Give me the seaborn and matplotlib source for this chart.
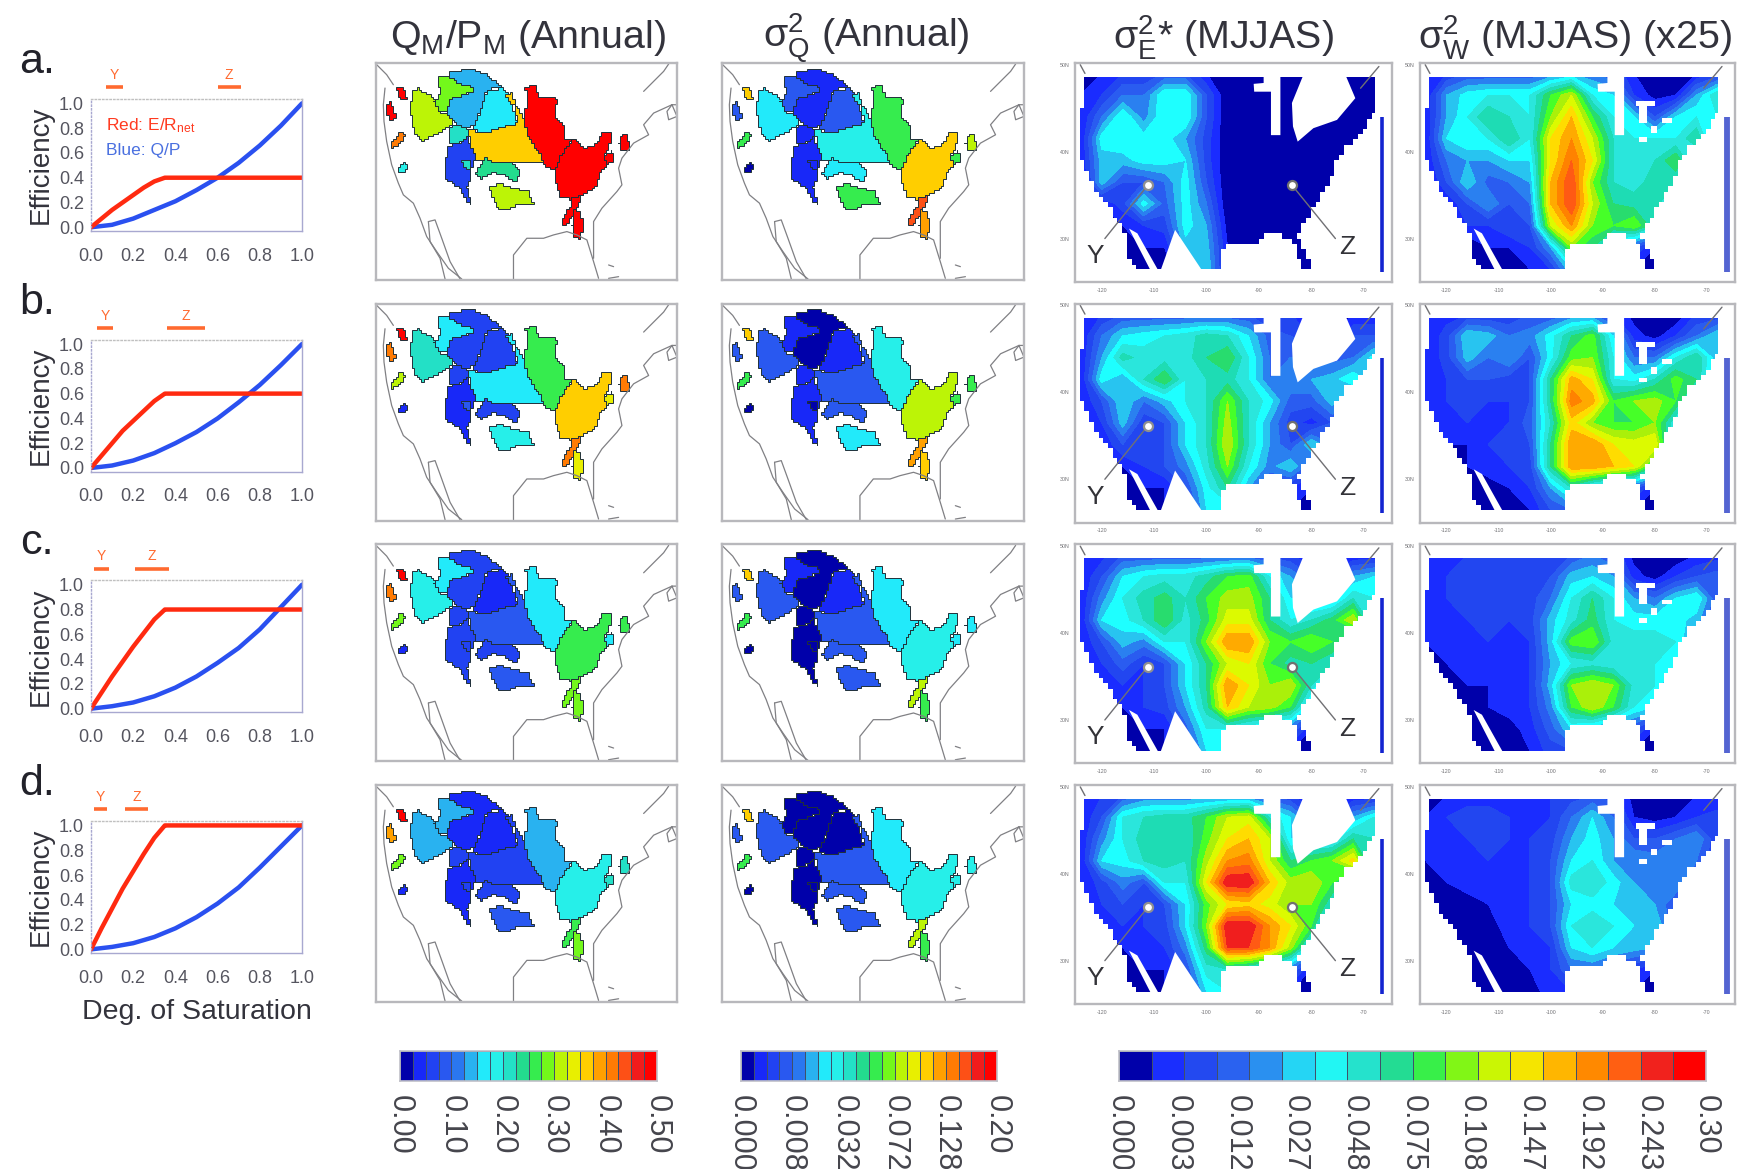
import numpy as np
import pandas as pd
import matplotlib
matplotlib.use("Agg")
import matplotlib.pyplot as plt
from matplotlib.colors import ListedColormap, BoundaryNorm
from matplotlib.patches import Polygon
import seaborn as sns

sns.set_style("white")
plt.rcParams["font.family"] = ["Liberation Sans", "DejaVu Sans"]
plt.rcParams["mathtext.fontset"] = "custom"
plt.rcParams["mathtext.rm"] = "Liberation Sans"
plt.rcParams["mathtext.it"] = "Liberation Sans"
plt.rcParams["mathtext.default"] = "regular"

W, H = 1739, 1169

#Parameters
PANELS = ["a.", "b.", "c.", "d."]
TITLES = ["Q$_{M}$/P$_{M}$ (Annual)", "$\\sigma^{2}_{Q}$ (Annual)",
          "$\\sigma^{2}_{E}$* (MJJAS)", "$\\sigma^{2}_{W}$ (MJJAS) (x25)"]
ANCHORS = ["#0000aa", "#1a2cff", "#2246f0", "#2a5cf0", "#2a80f0", "#28c4f0",
           "#1effff", "#2ae6dc", "#1edcb4", "#28dc6e", "#46ff28", "#aaf00a",
           "#dcfa00", "#ffdc00", "#ffaa00", "#ff8200", "#ff5a14", "#f01e1e", "#ff0000"]

#Efficiency curves
sat_blue = [0, .1, .2, .3, .4, .5, .6, .7, .8, .9, 1]
blue_curves = [[0, .02, .07, .14, .21, .30, .40, .52, .66, .82, 1],
               [0, .02, .06, .12, .20, .29, .40, .53, .67, .83, 1],
               [0, .02, .05, .10, .17, .26, .37, .49, .64, .82, 1],
               [0, .02, .05, .10, .17, .26, .37, .50, .66, .83, 1]]
sat_red = [0, .05, .1, .15, .2, .25, .3, .35, .36, 1]
red_curves = [[0, .07, .14, .20, .26, .32, .37, .40, .40, .40],
              [0, .10, .20, .30, .38, .46, .54, .60, .60, .60],
              [0, .13, .26, .38, .50, .61, .72, .80, .80, .80],
              [0, .17, .33, .49, .63, .77, .90, 1.0, 1.0, 1.0]]
y_range = [(.07, .15), (.03, .105), (.015, .085), (.015, .075)]
z_range = [(.60, .71), (.36, .54), (.21, .37), (.16, .27)]

#Basin outlines, in map grid units
b_a = [(80,100),(92,95),(103,110),(110,130),(95,135),(85,120)]
b_b = [(48,150),(60,140),(72,165),(76,190),(62,198),(50,180)]
b_c = [(60,270),(75,250),(90,230),(103,240),(100,255),(80,272),(65,280)]
b_d = [(85,335),(105,322),(115,340),(100,350),(88,348)]
b_e = [(125,105),(145,100),(165,115),(190,125),(195,145),(205,170),(225,178),(245,180),(248,208),(220,225),(190,242),(160,258),(135,240),(125,200),(120,160)]
b_f = [(200,60),(240,65),(265,85),(285,90),(305,95),(308,108),(270,125),(240,130),(230,172),(205,165),(192,140),(212,110),(200,85)]
b_g = [(235,50),(300,42),(350,60),(390,95),(350,105),(335,155),(315,205),(295,220),(265,212),(240,185),(230,172),(240,130),(270,125),(308,108),(305,95),(285,90),(265,85),(240,65)]
b_h = [(350,105),(395,100),(420,130),(440,205),(400,215),(350,232),(305,225),(315,205),(335,155)]
b_j = [(295,225),(350,232),(400,215),(440,205),(435,150),(455,180),(470,240),(510,295),(520,322),(440,322),(380,320),(320,315),(305,280)]
b_i = [(408,120),(425,112),(435,150),(420,145)]
b_k = [(242,208),(265,212),(295,225),(290,245),(270,262),(240,268),(240,235)]
b_l = [(235,272),(270,262),(290,245),(305,280),(318,310),(305,325),(302,375),(288,395),(303,445),(288,440),(272,400),(250,385),(225,370),(225,320)]
b_m = [(275,315),(300,312),(300,340),(285,340)]
b_n = [(320,340),(345,308),(370,325),(425,325),(448,345),(442,378),(420,372),(400,358),(370,352),(335,370),(318,355)]
b_o = [(358,395),(390,385),(430,400),(470,405),(488,450),(440,448),(420,460),(385,462),(370,430)]
b_p = [(465,95),(495,92),(505,125),(558,130),(552,185),(578,215),(578,250),(607,250),(572,300),(552,345),(520,330),(510,295),(470,240),(460,180),(470,140)]
b_q = [(607,250),(640,282),(680,265),(695,232),(722,232),(715,285),(700,300),(708,335),(690,350),(675,395),(635,420),(600,432),(570,425),(555,380),(552,345),(572,300)]
b_r1 = [(605,430),(635,418),(618,465),(600,490),(585,512),(572,505),(585,470),(600,455)]
b_r2 = [(612,465),(625,468),(640,510),(628,550),(612,545),(605,510)]
b_s = [(755,240),(770,240),(778,290),(750,290),(745,265)]
b_t = [(700,300),(722,288),(730,315),(708,335)]
basin_shapes = [b_a, b_b, b_c, b_d, b_e, b_f, b_g, b_h, b_j, b_i, b_k, b_l, b_m, b_n, b_o, b_p, b_q, b_r1, b_r2, b_s, b_t]

#Basin values, same order as basin_shapes
qp_a = [.50, .50, .42, .18, .31, .29, .13, .17, .36, .36, .20, .07, .20, .24, .31, .50, .50, .50, .50, .50, .50]
qp_b = [.50, .42, .31, .03, .22, .17, .06, .06, .16, .16, .07, .04, .08, .07, .19, .27, .37, .41, .35, .40, .33]
qp_c = [.50, .42, .28, .03, .19, .16, .05, .04, .08, .08, .05, .05, .06, .07, .08, .17, .25, .28, .28, .26, .17]
qp_d = [.48, .38, .30, .03, .15, .14, .04, .03, .07, .07, .05, .04, .05, .07, .09, .13, .18, .25, .28, .22, .20]
sq_a = [.112, .008, .060, .0005, .018, .008, .002, .008, .032, .032, .002, .002, .002, .024, .060, .050, .098, .162, .128, .072, .060]
sq_b = [.112, .0045, .050, .0002, .008, .002, .0002, .002, .008, .008, .002, .002, .0005, .008, .024, .032, .072, .128, .098, .050, .050]
sq_c = [.112, .0045, .050, .0002, .008, .002, .0002, .002, .0045, .0045, .0005, .0002, .0002, .0045, .008, .018, .032, .072, .050, .024, .024]
sq_d = [.098, .0045, .050, .0002, .008, .0005, .0002, .0005, .0045, .0045, .0002, .0002, .0002, .0045, .008, .018, .032, .072, .060, .032, .032]

#Coast lines, in map grid units
coast_west = [(45,100),(40,150),(42,200),(50,260),(65,330),(85,385),(100,420),(130,445),(150,490),(170,545),(200,590),(235,640),(275,672)]
coast_nw = [(20,30),(50,60),(70,90)]
coast_baja = [(175,500),(195,495),(215,550),(240,620),(270,672)]
coast_baja2 = [(175,500),(180,560),(210,610),(225,672)]
coast_gulf = [(430,672),(430,600),(470,550),(520,550),(550,540),(590,530),(620,540),(650,555),(670,620),(685,670)]
coast_east = [(670,610),(670,500),(695,460),(740,410),(755,390),(745,340),(755,310),(790,265),(835,240),(820,210),(850,175),(905,150),(920,150)]
coast_can = [(820,110),(880,50),(895,28)]
coast_lake = [(905,150),(920,185),(895,195),(890,170),(905,150)]
coast_isl = [(715,630),(730,635)]
coast_isl2 = [(715,670),(745,665)]
coast_lines = [coast_west, coast_nw, coast_baja, coast_baja2, coast_gulf, coast_east, coast_can, coast_lake, coast_isl, coast_isl2]

#Grid of the gridded fields
lons = [-124, -120, -116, -112, -108, -104, -100, -96, -92, -88, -84, -80, -76, -72, -68]
lats = [49, 46.5, 44, 41.5, 39, 36.5, 34, 31.5, 29, 26.5]

#Fields in colour bar steps, 0 to 18
e_a = [[1,1,2,2,3,3,1,0,0,0,0,0,0,0,0],
       [1,2,4,4,7,7,3,0,0,0,0,0,0,1,1],
       [1,4,7,4.5,7,7,3,0,0,0,0,0,0,1,1],
       [1,6.5,7,6.5,6.5,5,2.5,0,0,0,0,0,0,0,0],
       [1,5.5,5.5,6.5,6.5,6,2.5,0,0,0,0,0,0,0,0],
       [.5,5.5,3,3,4,6.5,3,0,0,0,0,0,0,0,0],
       [0,1,2.5,6.5,3.5,6.5,4,0,0,0,0,0,0,0,0],
       [0,0,1,2,2.5,6.5,5,.5,0,0,0,0,0,0,0],
       [0,0,0,1,1,5.5,5.5,1,0,0,0,0,0,0,0],
       [0,0,0,0,0,3,6,1,0,0,0,0,0,0,0]]
e_b = [[1,2,3,3,3,3,3,3,3,2,2,2,1,1,1],
       [1,4,6,6.5,7,7.5,8.5,8,6,3.5,3,2,1,3,3],
       [1,5,8.5,7.5,7.5,7.5,9,10,7,4,4,4,3.5,4,6.5],
       [1,6.5,5,8,10,7,8,8.5,7,4,5,5,5.5,7,5],
       [1,3,6,4,5.5,7,8,11,8,6.5,3.5,3.5,5.5,3,3],
       [.5,2,5.5,2.2,3,6,8,11.5,8,5,2.5,1.5,3,3,2],
       [0,1,3,2.5,3,6,8,12,8,5,3,6,4,2,2],
       [0,0,1,2,3,4.5,7.5,11,7,4.5,6,3,3,2,2],
       [0,0,0,1,1,3,6.5,9,5,2.5,2,1,1,1,1],
       [0,0,0,0,1,2,6,6,3,2,1,0,0,0,0]]
e_c = [[1,1.5,3,3,3,3,3,3,3,2.5,2,1,1,1,1],
       [1,3,6,7,7.5,7.5,8.5,10,10.5,7,5,3,2,5,6],
       [1,4.5,7,8.5,9.5,8,10,11.5,11.5,9,6,5,5,8,7],
       [1,6,6.5,8,10,7.5,9.5,12.5,12.5,9,7,8,9.5,12,6],
       [1,3,5.5,4.5,7,7,11,15,15,11,10,11,10,7,4],
       [.5,2,3.5,2,3,6,9,12,13,10,8.5,9,8,3,2],
       [0,1,2,2,3,6,9,15,13,11,12,8,3,2,2],
       [0,0,1,2,2.5,5,8.5,14,12,11.5,10,5,2,2,2],
       [0,0,0,1,1,3.5,7,7,6,5,4,1,1,1,1],
       [0,0,0,0,1,2,6,6.5,4,3,1,0,0,0,0]]
e_d = [[1,2,3,4,4,4,4,4,4,3,2,1,1,1,1],
       [1,3,7,8,8.5,8.5,10,12,12.5,8,6,3,2,5,7],
       [1,4.5,7,8.5,9,8,10.5,13,14,12,6,6,6,9,8],
       [1,6,6.5,8,8.5,8,11.5,15,15.5,12,9,10,11,13.5,6],
       [1,2.5,4.5,3,7,7,13,18,18,14,11.5,12,10,7,4],
       [.5,2,3,2,3,6,10.5,13,13.5,12.5,11,11,8,3,2],
       [0,1,2,2,2.5,6,11,18,18,15,13,10,3,2,2],
       [0,0,1,1.5,2,4.5,9.5,17,17,15,11.5,6,2,2,2],
       [0,0,0,1,1,3,7.5,8,7,6,4,1,1,1,1],
       [0,0,0,0,1,2,6,7,4,3,1,0,0,0,0]]
w_a = [[1,2,3,3,3,3,4,5,4,3,1,0,0,1,2],
       [1,5,6.5,7,7,7,10,12,7,6,2,.5,1,5,8],
       [1,5,7,9,8,7,11,14,10,7,6,3,6,7,7],
       [1,6,7,7,9,7,13,15,12,8,7,7,7,9,4],
       [1,4,5,5,6,6,13,16,13,8,8,8,10,6,3],
       [.5,3,6,3.5,4,5,14,17,11,8,7.5,8.5,8,3,2],
       [0,1,3,5,3,4,14,17,12,9,8.5,9,4,2,1],
       [0,0,2,2,3,3,12,15,11,10,11,8,2,1,1],
       [0,0,0,1,1,2,5,11,9,5,3,1,1,1,1],
       [0,0,0,0,0,1,2,6,2,1,1,0,0,0,0]]
w_b = [[1,1.5,2,2,2,3,3,4,4,2,.5,0,0,2,2],
       [1,2.5,6,5.5,4,4.5,6.5,9,10.5,6,1.5,.5,2,4,6],
       [1,2.5,5.5,4,5,3,6.5,10.5,11,7,4,4,7,9,5],
       [1,2,3,3,2.5,3,9,14.5,13,7,6.5,8,10.5,9,4],
       [1,2,2.5,2,2,3,9,15.5,14.5,10,11,11.5,10,6,3],
       [.5,1.5,2,2,2,3.5,8,13.5,11,10,10,11,7,3,2],
       [0,1,1,2,2.5,3,9,15,15,13,12.5,13,5,2,1],
       [0,0,1,1.5,2,2.5,9,15,15,14,13,9,2,1,1],
       [0,0,0,.5,1,2,5,8,5.5,4,3,1,1,1,1],
       [0,0,0,0,.5,1,3,4,2,1,1,0,0,0,0]]
w_c = [[1,1.5,2,2,2,2,2,3,4,3,.5,0,0,1,1.5],
       [1,2,3,3,2.5,2.5,3,5.5,6,5,1.5,.5,2,3,3.5],
       [1,2,2.5,2.5,2.5,2.5,4,7,9,7,5,4,6,7,3],
       [1.5,2,2,2.5,2,2.5,5.5,7.5,9.5,7,6.5,6.5,6.5,5.5,2.5],
       [1,1.5,2,2,2,2,5.5,10.5,11,7.5,7.5,7.5,7,4,2],
       [.5,1,1.5,1.5,1.5,2,5,7,7.5,7,7.5,7,6,2,1],
       [0,1,1,1,2,2,5.5,11,12,11,7.5,7,3,2,1],
       [0,0,.5,1,1.5,2,4.5,10,12,10,7,6,2,1,1],
       [0,0,0,.5,.5,1.5,3.5,6,5,4,3,1,1,1,1],
       [0,0,0,0,0,1,2.5,3,2,1,1,0,0,0,0]]
w_d = [[1,1,1.5,1.5,1.5,1.5,2,2.5,3,2.5,.5,0,0,1,1],
       [1,2,2.5,2.5,2,2,2,4,6,4,1,.5,1,2,2.5],
       [1,2,2,2.5,2,2,2.5,5,6.5,5,3,3,4,5,2],
       [1,1.5,2,2,1.5,2,3,6,7,5,5,4.5,5,4,2],
       [1,1,1.5,1.5,1.5,2,3,7.5,8,6.5,5,5,5,3,1.5],
       [.5,1,.5,1,1.5,2,3,6,6.5,6,6,5,3,2,1],
       [0,1,.5,.5,1.5,2,3,7,8,7,6,6,3,1.5,1],
       [0,0,0,.5,1,1.5,2,6,7,6,5.5,5,1.5,1,1],
       [0,0,0,0,.5,1,2,4,4,3,2,1,1,1,1],
       [0,0,0,0,0,.5,1.5,2,2,1,1,0,0,0,0]]

#Land outline and masked out areas, lon/lat
us_outline = [(-123.2,48.65),(-66.2,48.65),(-65.9,45),(-68.7,43.85),(-70.6,41.7),(-73.2,40.6),(-75.1,39),(-77,36),
              (-80.2,32.9),(-82.4,30.2),(-80.8,27.9),(-79.9,26.15),(-81.5,26.1),(-82.7,27.9),(-83.2,29.6),(-85.9,30.4),
              (-88.5,30.8),(-91,29.2),(-95.5,29.6),(-97.4,27.9),(-97.5,26.15),(-112.4,26.15),(-114.9,27.9),(-115.5,30.2),
              (-117.1,32.5),(-121.6,36.3),(-123.8,39.4),(-124.1,42.9)]
lake_common = [(-89.1,48.85),(-85.9,48.85),(-85.9,41.9),(-87.7,41.9),(-87.7,46.9),(-90.9,46.9),(-91,47.8),(-89.1,47.9)]
lake_e = [(-81.5,48.85),(-83.7,45.6),(-83.5,42.9),(-82.6,41.15),(-79.6,42.7),(-75.1,43.65),(-71.6,46.15),(-73.5,48.85)]
lake_w = [[(-83.7,45.8),(-79.9,45.8),(-79.9,45.2),(-83.7,45.2)],
          [(-83.1,45.2),(-81.5,45.2),(-81.5,43.3),(-83.1,43.3)],
          [(-78.6,43.85),(-76.7,43.85),(-76.7,43.3),(-78.6,43.3)],
          [(-80.8,42.9),(-79.6,42.9),(-79.6,42.1),(-80.8,42.1)],
          [(-83.1,41.7),(-81.5,41.7),(-81.5,41.15),(-83.1,41.15)]]
gulf_gap = [(-114.8,31.15),(-113.2,30.6),(-108.9,26),(-110.4,26)]
mex_gap = [(-108.9,26.1),(-106,31),(-100.6,26.1)]
y_point = (-111.2, 36.15)
z_point = (-83.7, 36.15)
y_end = (-119.4, 30)
z_end = (-75.4, 30)

#Colour bar labels
bar1_labels = ["0.00", "0.10", "0.20", "0.30", "0.40", "0.50"]
bar2_labels = ["0.000", "0.008", "0.032", "0.072", "0.128", "0.20"]
bar3_labels = ["0.000", "0.003", "0.012", "0.027", "0.048", "0.075", "0.108", "0.147", "0.192", "0.243", "0.30"]


def add_axes(fig, left, top, right, bottom):
    return fig.add_axes([left / W, 1 - bottom / H, (right - left) / W, (bottom - top) / H])


def frame(ax, color="#b8b8bc", lw=1.7):
    for s in ax.spines.values():
        s.set_visible(True)
        s.set_color(color)
        s.set_linewidth(lw)


# grid cells make the outlines blocky, like the model grid
def stair(points, dx, dy):
    pts = np.array(points + points[:1], dtype=float)
    out = []
    for p0, p1 in zip(pts[:-1], pts[1:]):
        for t in np.linspace(0, 1, 12, endpoint=False):
            x = np.round((p0[0] + t * (p1[0] - p0[0])) / dx) * dx
            y = np.round((p0[1] + t * (p1[1] - p0[1])) / dy) * dy
            if out and (x, y) != out[-1]:
                out.append((x, out[-1][1]))
            out.append((x, y))
    return out


def draw_basins(ax, values, norm, cmap):
    for shape, v in zip(basin_shapes, values):
        ax.add_patch(Polygon(stair(shape, 7, 7), closed=True, facecolor=cmap(norm(v)), edgecolor="#20303a", lw=0.7))
    for line in coast_lines:
        xy = np.array(line)
        ax.plot(xy[:, 0], xy[:, 1], color="#808084", lw=0.9)
    ax.set_xlim(18, 920)
    ax.set_ylim(675, 25)
    ax.set_xticks([])
    ax.set_yticks([])
    frame(ax)


def draw_field(ax, field, is_w):
    cs = ax.contourf(lons, lats, field, levels=field_levels, cmap=field_cmap, vmin=0, vmax=18)
    cs.set_clip_path(Polygon(stair(us_outline, 0.9, 0.6), closed=True, transform=ax.transData))
    ax.add_patch(Polygon(lake_common, closed=True, fc="white", ec="none"))
    ax.add_patch(Polygon(gulf_gap, closed=True, fc="white", ec="none"))
    if is_w:
        for rect in lake_w:
            ax.add_patch(Polygon(rect, closed=True, fc="white", ec="none"))
        ax.plot([-66.2, -66.2], [44, 26.15], color="#5464d2", lw=4.2, solid_capstyle="butt")
    else:
        ax.add_patch(Polygon(lake_e, closed=True, fc="white", ec="none"))
        ax.add_patch(Polygon(mex_gap, closed=True, fc="white", ec="none"))
        ax.plot([-66.5, -66.5], [44, 26.15], color="#1424d0", lw=2.6, solid_capstyle="butt")
        ax.plot([y_point[0], y_end[0]], [y_point[1], y_end[1]], color="#707074", lw=1)
        ax.plot([z_point[0], z_end[0]], [z_point[1], z_end[1]], color="#707074", lw=1)
        ax.plot(*y_point, "o", ms=6.5, mfc="white", mec="#909090", mew=1.6)
        ax.plot(*z_point, "o", ms=6.5, mfc="white", mec="#707070", mew=1.6)
        ax.text(-121.3, 28, "Y", fontsize=19, color="#333338", ha="center", va="center")
        ax.text(-73.2, 29, "Z", fontsize=19, color="#333338", ha="center", va="center")
    ax.plot([-124.1, -123.2], [50, 49], color="#707074", lw=1)
    ax.plot([-67.1, -70.6], [49.8, 47.3], color="#707074", lw=1)
    ax.set_xlim(-125.1, -64.6)
    ax.set_ylim(25, 50.2)
    ax.set_xticks([-120, -110, -100, -90, -80, -70])
    ax.set_xticklabels(["-120", "-110", "-100", "-90", "-80", "-70"])
    ax.set_yticks([30, 40, 50])
    ax.set_yticklabels(["30N", "40N", "50N"])
    ax.tick_params(axis="both", length=2.5, width=0.7, color="#909090", labelsize=3.8, labelcolor="#707074", pad=1.5)
    frame(ax)


def draw_bar(fig, left, right, labels, n_cells):
    ax = add_axes(fig, left, 1051, right, 1081)
    colors = sns.blend_palette(ANCHORS, n_colors=n_cells)
    sns.heatmap(np.arange(n_cells)[None, :], ax=ax, cmap=ListedColormap(colors), cbar=False,
                xticklabels=False, yticklabels=False, linewidths=0.5, linecolor="#40506a")
    ax.set_xticks(np.linspace(0, n_cells, len(labels)))
    ax.set_xticklabels(labels, rotation=270, fontsize=22, color="#45454c")
    ax.tick_params(axis="x", length=0, pad=10)
    for label in ax.get_xticklabels():
        label.set_clip_on(False)
    frame(ax, "#c0c0c8", 1.2)


# scales
cmap20 = ListedColormap(sns.blend_palette(ANCHORS, n_colors=20))
norm_qp = BoundaryNorm(np.linspace(0, .5, 21), 20)
norm_sq = BoundaryNorm(.2 * (np.arange(21) / 20) ** 2, 20)
field_cmap = ListedColormap(ANCHORS[:18])
field_levels = np.arange(19.0)
field_levels[0] = -1

fig = plt.figure(figsize=(W / 100, H / 100), dpi=100)
fig.patch.set_facecolor("white")

title_x = [528, 866, 1223, 1575]
for x, t in zip(title_x, TITLES):
    fig.text(x / W, 1 - 38 / H, t, fontsize=28.4, color="#33333c", ha="center", va="center")

col_qp = [qp_a, qp_b, qp_c, qp_d]
col_sq = [sq_a, sq_b, sq_c, sq_d]
col_e = [e_a, e_b, e_c, e_d]
col_w = [w_a, w_b, w_c, w_d]

for i in range(4):
    dy = i * 240.7

    # line panels
    ax = add_axes(fig, 91, 99 + dy, 302, 231 + dy)
    df_blue = pd.DataFrame({"sat": sat_blue, "eff": blue_curves[i]})
    df_red = pd.DataFrame({"sat": sat_red, "eff": red_curves[i]})
    sns.lineplot(data=df_blue, x="sat", y="eff", color="#2a50f0", lw=3.2, ax=ax, errorbar=None)
    sns.lineplot(data=df_red, x="sat", y="eff", color="#ff2a10", lw=3.2, ax=ax, errorbar=None)
    ax.set_xlim(0, 1)
    ax.set_ylim(-.03, 1.035)
    ax.set_xticks(np.arange(0, 1.01, .2))
    ax.set_yticks(np.arange(0, 1.01, .2))
    ax.tick_params(axis="x", labelsize=13, labelcolor="#55555f", length=0, pad=12)
    ax.tick_params(axis="y", labelsize=13, labelcolor="#55555f", length=0, pad=5)
    ax.set_xlabel("")
    ax.set_ylabel("Efficiency", fontsize=20, color="#33333c", labelpad=4)
    for s in ax.spines.values():
        s.set_color("#a8a8d0")
        s.set_linewidth(1.0)
    ax.spines["top"].set_color("#c0c0c0")
    ax.spines["top"].set_linestyle(":")
    ax.spines["left"].set_linestyle(":")

    tr = ax.get_xaxis_transform()
    ax.plot(y_range[i], [1.09, 1.09], color="#ff6a30", lw=2.6, transform=tr, clip_on=False, solid_capstyle="butt")
    ax.plot(z_range[i], [1.09, 1.09], color="#ff6a30", lw=2.6, transform=tr, clip_on=False, solid_capstyle="butt")
    ax.text(sum(y_range[i]) / 2, 1.13, "Y", fontsize=10, color="#ff6a30", ha="center", va="bottom", transform=tr)
    ax.text(sum(z_range[i]) / 2, 1.13, "Z", fontsize=10, color="#ff6a30", ha="center", va="bottom", transform=tr)
    if i == 0:
        ax.text(.07, .82, "Red: E/R$_{net}$", fontsize=12.5, color="#ff3a20", va="center")
        ax.text(.07, .62, "Blue: Q/P", fontsize=12.5, color="#4a70e0", va="center")
    if i == 3:
        ax.set_xlabel("Deg. of Saturation", fontsize=20.5, color="#33333c", labelpad=9)

    fig.text(37 / W, 1 - (62 + dy) / H, PANELS[i], fontsize=31, color="#22222a", ha="center", va="center")

    # basin maps
    draw_basins(add_axes(fig, 376, 63 + dy, 677, 280 + dy), col_qp[i], norm_qp, cmap20)
    draw_basins(add_axes(fig, 722, 63 + dy, 1024, 280 + dy), col_sq[i], norm_sq, cmap20)

    # gridded fields
    draw_field(add_axes(fig, 1075, 63 + dy, 1392, 282 + dy), col_e[i], False)
    draw_field(add_axes(fig, 1420, 63 + dy, 1735, 282 + dy), col_w[i], True)

draw_bar(fig, 400, 657, bar1_labels, 20)
draw_bar(fig, 741, 997, bar2_labels, 20)
draw_bar(fig, 1119, 1706, bar3_labels, 18)

fig.savefig("out.png", dpi=100, facecolor="white")
